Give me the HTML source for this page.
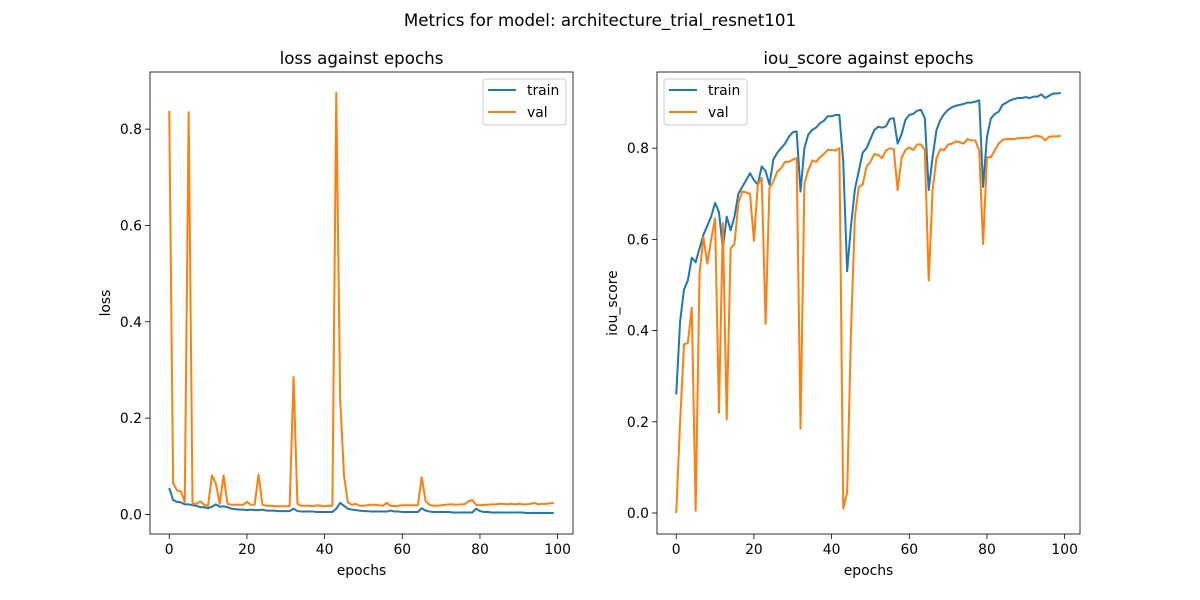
<!DOCTYPE html>
<html><head><meta charset="utf-8"><style>
body{margin:0;background:#fff;}
svg{display:block;font-family:"DejaVu Sans","Liberation Sans",sans-serif;}
</style></head><body>
<svg id="fig" width="1200" height="600" viewBox="0 0 1200 600" xmlns="http://www.w3.org/2000/svg">
<rect width="1200" height="600" fill="#fff"/>
<text x="600" y="26" text-anchor="middle" font-size="16.7" fill="#000">Metrics for model: architecture_trial_resnet101</text>
</svg>
<script>
const lossTrain=[0.055,0.03,0.026,0.025,0.021,0.021,0.019,0.018,0.015,0.015,0.013,0.016,0.021,0.016,0.017,0.015,0.012,0.011,0.010,0.010,0.009,0.010,0.009,0.009,0.010,0.008,0.008,0.008,0.007,0.007,0.007,0.007,0.012,0.007,0.006,0.006,0.006,0.006,0.005,0.005,0.005,0.005,0.005,0.012,0.024,0.018,0.012,0.010,0.009,0.008,0.007,0.007,0.006,0.006,0.006,0.006,0.006,0.008,0.006,0.006,0.005,0.005,0.005,0.005,0.005,0.013,0.008,0.006,0.005,0.005,0.005,0.005,0.005,0.004,0.004,0.004,0.004,0.004,0.004,0.012,0.007,0.005,0.005,0.004,0.004,0.004,0.004,0.004,0.004,0.004,0.004,0.004,0.003,0.003,0.003,0.003,0.003,0.003,0.003,0.003];
const lossVal=[0.838,0.065,0.05,0.048,0.026,0.835,0.022,0.022,0.027,0.02,0.018,0.081,0.064,0.022,0.081,0.022,0.02,0.02,0.02,0.02,0.026,0.02,0.021,0.083,0.02,0.018,0.018,0.017,0.017,0.017,0.017,0.017,0.285,0.022,0.018,0.018,0.018,0.017,0.019,0.018,0.017,0.018,0.018,0.875,0.24,0.08,0.025,0.02,0.022,0.018,0.018,0.019,0.02,0.02,0.019,0.018,0.024,0.018,0.017,0.018,0.019,0.019,0.019,0.019,0.019,0.077,0.028,0.02,0.018,0.018,0.019,0.02,0.021,0.021,0.02,0.021,0.021,0.027,0.03,0.02,0.019,0.02,0.02,0.021,0.021,0.022,0.022,0.021,0.022,0.021,0.022,0.021,0.021,0.022,0.024,0.021,0.022,0.022,0.023,0.024];
const iouTrain=[0.26,0.42,0.49,0.51,0.56,0.55,0.58,0.61,0.63,0.65,0.68,0.66,0.58,0.65,0.62,0.65,0.70,0.715,0.73,0.745,0.73,0.72,0.76,0.75,0.72,0.775,0.79,0.80,0.81,0.825,0.835,0.837,0.705,0.80,0.83,0.84,0.845,0.855,0.86,0.87,0.87,0.873,0.873,0.77,0.53,0.63,0.71,0.75,0.79,0.80,0.82,0.84,0.847,0.845,0.848,0.864,0.866,0.81,0.83,0.862,0.873,0.875,0.882,0.884,0.866,0.708,0.78,0.84,0.862,0.875,0.884,0.89,0.893,0.895,0.897,0.90,0.90,0.902,0.905,0.715,0.825,0.865,0.875,0.88,0.895,0.90,0.905,0.908,0.91,0.91,0.912,0.91,0.913,0.913,0.918,0.91,0.915,0.92,0.92,0.921];
const iouVal=[0.0,0.2,0.37,0.373,0.45,0.005,0.525,0.605,0.547,0.60,0.646,0.22,0.636,0.205,0.58,0.59,0.68,0.705,0.703,0.70,0.597,0.72,0.735,0.415,0.713,0.727,0.748,0.756,0.77,0.77,0.775,0.778,0.185,0.722,0.752,0.773,0.77,0.78,0.787,0.796,0.796,0.795,0.80,0.01,0.045,0.40,0.65,0.715,0.72,0.76,0.77,0.787,0.785,0.778,0.795,0.80,0.798,0.708,0.778,0.796,0.802,0.796,0.808,0.808,0.796,0.51,0.708,0.778,0.798,0.796,0.808,0.81,0.815,0.813,0.81,0.82,0.817,0.817,0.795,0.59,0.78,0.78,0.795,0.81,0.818,0.82,0.82,0.82,0.822,0.822,0.823,0.823,0.826,0.827,0.825,0.817,0.825,0.826,0.826,0.827];
const xTicks=[0,20,40,60,80,100];
const yTicks=[0,0.2,0.4,0.6,0.8];
const yTickLabels=["0.0","0.2","0.4","0.6","0.8"];

const NS="http://www.w3.org/2000/svg";
const fig=document.getElementById('fig');
function mk(tag,attrs,parent){const e=document.createElementNS(NS,tag);for(const k in attrs)e.setAttribute(k,attrs[k]);(parent||fig).appendChild(e);return e;}

function panel(key,L,R,title,ylabel,train,val,legendRight){
  const T=72,B=534;
  const g=mk('g',{});
  
  
  const n=train.length;
  const xr=(n-1)*0.05;
  const xs=v=>L+(v+xr)/((n-1)+2*xr)*(R-L);
  const all=train.concat(val);
  const mn=Math.min(...all),mx=Math.max(...all),m=(mx-mn)*0.05;
  const ys=v=>B-(v-(mn-m))/((mx+m)-(mn-m))*(B-T);
  xTicks.forEach(t=>{
    const x=xs(t);
    const tk=mk('line',{x1:x,x2:x,y1:B,y2:B+5,stroke:'#000','stroke-width':0.8},g);
    
    
    const tx=mk('text',{x:x,y:B+20,'text-anchor':'middle','font-size':13.9,fill:'#000'},g);
    tx.textContent=String(t);
    
    
  });
  yTicks.forEach((t,i)=>{
    const y=ys(t);
    const tk=mk('line',{x1:L-5,x2:L,y1:y,y2:y,stroke:'#000','stroke-width':0.8},g);
    
    
    const tx=mk('text',{x:L-8,y:y+5,'text-anchor':'end','font-size':13.9,fill:'#000'},g);
    tx.textContent=yTickLabels[i];
    
    
  });
  const cl=mk('clipPath',{id:'clip-'+key},g);
  mk('rect',{x:L,y:T,width:R-L,height:B-T},cl);
  [[train,'#1f77b4','train'],[val,'#ff7f0e','val']].forEach(([d,c,nm])=>{
    const p=mk('polyline',{points:d.map((v,i)=>xs(i).toFixed(2)+','+ys(v).toFixed(2)).join(' '),fill:'none',stroke:c,'stroke-width':2,'stroke-linejoin':'round','clip-path':'url(#clip-'+key+')'},g);
    
    
  });
  const fr=mk('rect',{x:L,y:T,width:R-L,height:B-T,fill:'none',stroke:'#000','stroke-width':0.8},g);
  
  
  const ti=mk('text',{x:(L+R)/2,y:64,'text-anchor':'middle','font-size':16.7,fill:'#000'},g);
  ti.textContent=title;
  
  
  const xl=mk('text',{x:(L+R)/2,y:575,'text-anchor':'middle','font-size':13.9,fill:'#000'},g);
  xl.textContent='epochs';
  
  
  const yx=L-40,yy=(T+B)/2;
  const yl=mk('text',{x:yx,y:yy,'text-anchor':'middle','font-size':13.9,fill:'#000',transform:'rotate(-90 '+yx+' '+yy+')'},g);
  yl.textContent=ylabel;
  
  
  const lx=legendRight?R-90:L+7;
  const lg=mk('g',{},g);
  
  
  mk('rect',{x:lx,y:79,width:83,height:46,rx:3,fill:'#fff','fill-opacity':0.8,stroke:'#ccc','stroke-width':1},lg);
  [['train','#1f77b4',90],['val','#ff7f0e',112]].forEach(([nm,c,y])=>{
    const e=mk('g',{},lg);
    
    
    mk('line',{x1:lx+5,x2:lx+33,y1:y,y2:y,stroke:c,'stroke-width':2},e);
    const t=mk('text',{x:lx+44,y:y+5,'font-size':13.9,fill:'#000'},e);
    t.textContent=nm;
  });
}
panel('loss',150,573,'loss against epochs','loss',lossTrain,lossVal,true);
panel('iou',657,1080,'iou_score against epochs','iou_score',iouTrain,iouVal,false);
</script>
</body></html>
